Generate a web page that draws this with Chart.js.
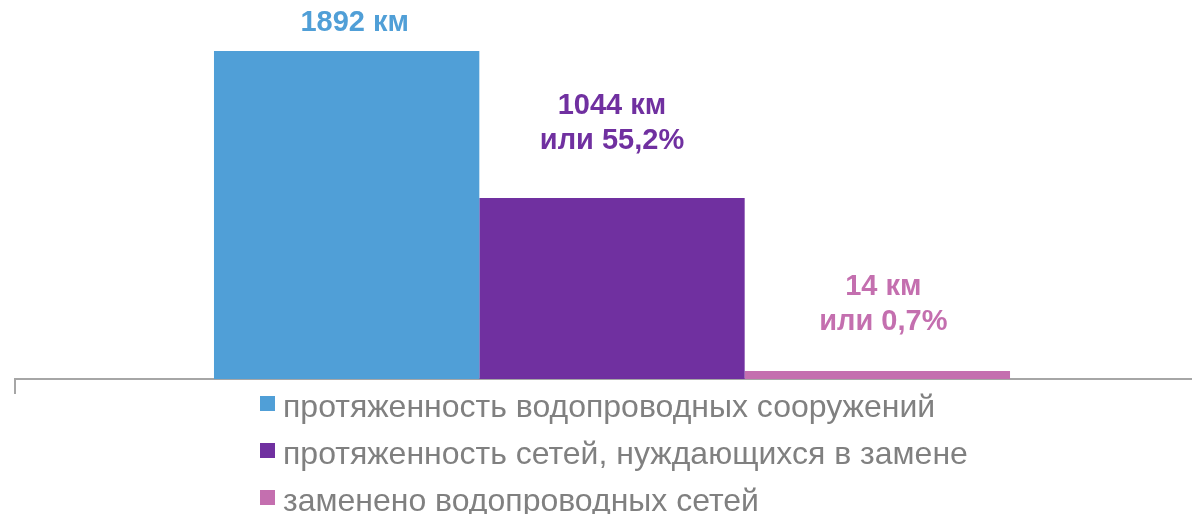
<!DOCTYPE html>
<html>
<head>
<meta charset="utf-8">
<script src="https://cdn.jsdelivr.net/npm/chart.js@4.4.1/dist/chart.umd.min.js"></script>
<style>
  html, body { margin: 0; padding: 0; background: #fff; overflow: hidden; }
  #wrap { position: relative; width: 1192px; height: 514px; overflow: hidden; }
  #box { position: absolute; left: 0; top: 0; width: 1209px; height: 514px; }
  #legend { position: absolute; left: 260px; top: 383px; font-family: "Liberation Sans", Arial, sans-serif; font-size: 32px; color: #808080; }
  .row { height: 47px; line-height: 47px; white-space: nowrap; }
  .sw { display: inline-block; width: 15px; height: 15px; vertical-align: top; margin-top: 13px; margin-right: 8px; }
</style>
</head>
<body>
<div id="wrap">
  <div id="box"><canvas id="chart"></canvas></div>
  <div id="legend"></div>
</div>
<script>
// ---- data ----
const categories = [""];
const seriesNames = [
  "протяженность водопроводных сооружений",
  "протяженность сетей, нуждающихся в замене",
  "заменено водопроводных сетей",
];
const seriesValues = [[1892], [1044], [14]];
const seriesColors = ["#509FD7", "#7030A0", "#C46FAF"];
const unit = "км";

const total = seriesValues[0][0];

function labelLines(i) {
  const v = seriesValues[i][0];
  const lines = [`${v} ${unit}`];
  if (i > 0) lines.push(`или ${((v / total) * 100).toFixed(1).replace(".", ",")}%`);
  return lines;
}

// labels above bars, nudged by hand like in the original
const barLabels = {
  id: "barLabels",
  afterDatasetsDraw(chart, args, opts) {
    const ctx = chart.ctx;
    ctx.save();
    ctx.font = "bold 29px 'Liberation Sans', Arial, sans-serif";
    ctx.textAlign = "center";
    ctx.textBaseline = "middle";
    chart.data.datasets.forEach((ds, i) => {
      const bar = chart.getDatasetMeta(i).data[0];
      const lines = labelLines(i);
      const last = bar.y - opts.lift[i];
      ctx.fillStyle = ds.backgroundColor;
      lines.forEach((t, k) => ctx.fillText(t, bar.x + opts.shift[i], last - (lines.length - 1 - k) * opts.lineHeight));
    });
    ctx.restore();
  },
};

new Chart(document.getElementById("chart"), {
  type: "bar",
  data: {
    labels: categories,
    datasets: seriesNames.map((name, i) => ({
      label: name,
      data: seriesValues[i],
      backgroundColor: seriesColors[i],
      borderWidth: 0,
      minBarLength: 8,
      categoryPercentage: 0.6667,
      barPercentage: 1,
    })),
  },
  options: {
    responsive: true,
    maintainAspectRatio: false,
    animation: false,
    layout: { padding: { left: 15, right: 0, top: 0, bottom: 120 } },
    plugins: {
      legend: { display: false },
      tooltip: { enabled: false },
      barLabels: { lift: [28, 57, 49], shift: [8, 0, 6], lineHeight: 35 },
    },
    scales: {
      x: {
        offset: true,
        ticks: { display: false },
        grid: { drawOnChartArea: false, drawTicks: true, tickLength: 15, color: "#A6A6A6", lineWidth: 2 },
        border: { color: "#A6A6A6", width: 2 },
      },
      y: { display: false, min: 0, max: 2186 },
    },
  },
  plugins: [barLabels],
});

// legend as a vertical list under the axis
document.getElementById("legend").innerHTML = seriesNames
  .map((name, i) => `<div class="row"><span class="sw" style="background:${seriesColors[i]}"></span>${name}</div>`)
  .join("");
</script>
</body>
</html>
